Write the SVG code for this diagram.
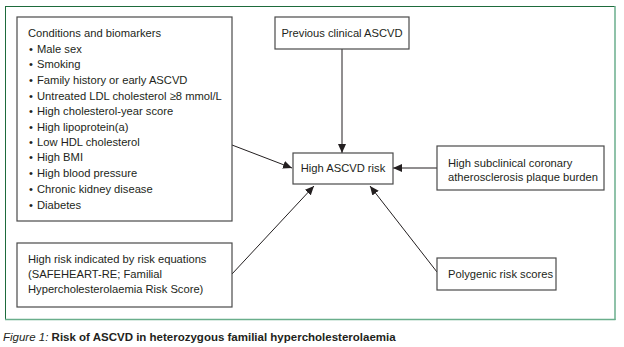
<svg xmlns="http://www.w3.org/2000/svg" width="624" height="347" viewBox="0 0 624 347">
<style>
.bg{fill:#ffffff}
.box{fill:#ffffff;stroke:#4a4a4a;stroke-width:1.2}
.t{font-family:"Liberation Sans",Arial,sans-serif;font-size:11.2px;fill:#231f20}
.edge{stroke:#231f20;stroke-width:1;fill:none;marker-end:url(#ah)}
.cap{font-family:"Liberation Sans",Arial,sans-serif;font-size:11.5px;fill:#231f20}
</style>
<defs>
<marker id="ah" markerUnits="userSpaceOnUse" markerWidth="9" markerHeight="8" viewBox="0 0 9 8" refX="9" refY="4" orient="auto">
<path d="M0,0 L9,4 L0,8 z" fill="#231f20"/>
</marker>
</defs>
<rect class="bg" x="0" y="0" width="624" height="347"/>
<g id="frame">
<line x1="5" y1="6.5" x2="615" y2="6.5" stroke="#1e6b3c" stroke-width="1"/>
<line x1="5.5" y1="6" x2="5.5" y2="320" stroke="#1e6b3c" stroke-width="1"/>
<line x1="615" y1="6" x2="615" y2="320" stroke="#6aae8c" stroke-width="1.5"/>
<line x1="5" y1="319.5" x2="615.5" y2="319.5" stroke="#6aae8c" stroke-width="1.5"/>
</g>
<g id="edges">
<line class="edge" x1="342" y1="49" x2="342" y2="153"/>
<line class="edge" x1="437" y1="168" x2="393" y2="168"/>
<line class="edge" x1="232" y1="145" x2="292" y2="168"/>
<line class="edge" x1="232" y1="274" x2="314" y2="186"/>
<line class="edge" x1="437" y1="272" x2="370" y2="186"/>
</g>
<g id="conditions">
<rect class="box" x="17" y="17" width="215" height="204"/>
<text class="t" x="28" y="37">Conditions and biomarkers</text>
<text class="t" x="29" y="53">•</text><text class="t" x="37" y="53">Male sex</text>
<text class="t" x="29" y="68">•</text><text class="t" x="37" y="68">Smoking</text>
<text class="t" x="29" y="84">•</text><text class="t" x="37" y="84">Family history or early ASCVD</text>
<text class="t" x="29" y="100">•</text><text class="t" x="37" y="100">Untreated LDL cholesterol ≥8 mmol/L</text>
<text class="t" x="29" y="115">•</text><text class="t" x="37" y="115">High cholesterol-year score</text>
<text class="t" x="29" y="131">•</text><text class="t" x="37" y="131">High lipoprotein(a)</text>
<text class="t" x="29" y="146">•</text><text class="t" x="37" y="146">Low HDL cholesterol</text>
<text class="t" x="29" y="161">•</text><text class="t" x="37" y="161">High BMI</text>
<text class="t" x="29" y="177">•</text><text class="t" x="37" y="177">High blood pressure</text>
<text class="t" x="29" y="193">•</text><text class="t" x="37" y="193">Chronic kidney disease</text>
<text class="t" x="29" y="209">•</text><text class="t" x="37" y="209">Diabetes</text>
</g>
<g id="previous">
<rect class="box" x="275" y="17" width="134" height="32"/>
<text class="t" x="342" y="37" text-anchor="middle">Previous clinical ASCVD</text>
</g>
<g id="high-risk">
<rect class="box" x="293" y="153" width="100" height="31"/>
<text class="t" x="343" y="172" text-anchor="middle">High ASCVD risk</text>
</g>
<g id="subclinical">
<rect class="box" x="437" y="146" width="167" height="44"/>
<text class="t" x="448" y="167">High subclinical coronary</text>
<text class="t" x="448" y="181">atherosclerosis plaque burden</text>
</g>
<g id="risk-equations">
<rect class="box" x="17" y="243" width="215" height="64"/>
<text class="t" x="28" y="263">High risk indicated by risk equations</text>
<text class="t" x="28" y="278">(SAFEHEART-RE; Familial</text>
<text class="t" x="28" y="293">Hypercholesterolaemia Risk Score)</text>
</g>
<g id="polygenic">
<rect class="box" x="437" y="258" width="119" height="32"/>
<text class="t" x="448" y="278">Polygenic risk scores</text>
</g>
<text class="cap" x="3" y="341"><tspan font-style="italic">Figure 1:</tspan><tspan font-weight="bold"> Risk of ASCVD in heterozygous familial hypercholesterolaemia</tspan></text>
</svg>
